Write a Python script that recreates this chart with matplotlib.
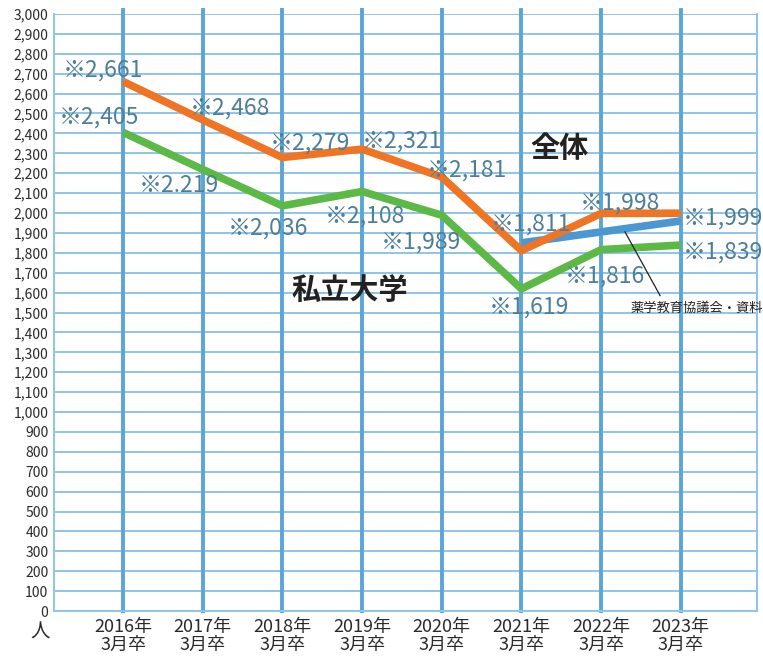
import matplotlib.pyplot as plt

plt.rcParams['font.family'] = ['Noto Sans CJK JP', 'DejaVu Sans']

years = ["2016年\n3月卒", "2017年\n3月卒", "2018年\n3月卒", "2019年\n3月卒",
         "2020年\n3月卒", "2021年\n3月卒", "2022年\n3月卒", "2023年\n3月卒"]
total = [2661, 2468, 2279, 2321, 2181, 1811, 1998, 1999]
private = [2405, 2219, 2036, 2108, 1989, 1619, 1816, 1839]
total_labels = ["※2,661", "※2,468", "※2,279", "※2,321", "※2,181", "※1,811", "※1,998", "※1,999"]
private_labels = ["※2,405", "※2.219", "※2,036", "※2,108", "※1,989", "※1,619", "※1,816", "※1,839"]
# short blue line 2021-2023
blue_x = [5, 6, 7]
blue_y = [1850, 1905, 1960]

# label offsets in pixels (dx, dy)
total_off = [(-20, 11), (27, 12), (28, 14), (40, 8), (25, 7), (9, 27), (19, 10), (42, -5)]
private_off = [(-24, 15), (-24, -16), (-14, -22), (3, -25), (-21, -27), (8, -18), (4, -26), (42, -7)]

fig = plt.figure(figsize=(7.63, 6.6), dpi=100)
ax = fig.add_axes([0.0708, 0.0742, 0.9212, 0.9046])

x = list(range(len(years)))
ax.set_xlim(-0.866, 7.955)
ax.set_ylim(0, 3000)

grid_h = '#8ec5e8'
grid_v = '#5aa6d4'
for v in range(0, 3001, 100):
    ax.axhline(v, color=grid_h, lw=1.4, zorder=1)
for xi in x:
    ax.axvline(xi, ymin=0, ymax=1.006, color=grid_v, lw=2.8, zorder=2, clip_on=False)

for s in ['left', 'bottom', 'right']:
    ax.spines[s].set_color(grid_h)
    ax.spines[s].set_linewidth(1.4)
ax.spines['top'].set_visible(False)

ax.plot(blue_x, blue_y, color='#4a97d2', lw=5.5, solid_capstyle='butt', zorder=3)
ax.plot(x, total, color='#ef7424', lw=5.5, solid_capstyle='butt', zorder=4)
ax.plot(x, private, color='#5cb946', lw=5.5, solid_capstyle='butt', zorder=4)

lab_color = '#4d7f97'
for xi, v, t, (dx, dy) in zip(x, total, total_labels, total_off):
    ax.annotate(t, (xi, v), xytext=(dx, dy), textcoords='offset pixels',
                ha='center', va='center', fontsize=16.5, color=lab_color, zorder=5,
                annotation_clip=False)
for xi, v, t, (dx, dy) in zip(x, private, private_labels, private_off):
    ax.annotate(t, (xi, v), xytext=(dx, dy), textcoords='offset pixels',
                ha='center', va='center', fontsize=16.5, color=lab_color, zorder=5,
                annotation_clip=False)

ax.text(5.475, 2325, "全体", fontsize=21, fontweight='bold', color='#222222', ha='center', va='center')
ax.text(2.84, 1615, "私立大学", fontsize=21, fontweight='bold', color='#222222', ha='center', va='center')

# source note with leader line
ax.plot([6.3, 6.74], [1905, 1585], color='#222222', lw=0.9, zorder=5)
ax.text(7.2, 1520, "薬学教育協議会・資料", fontsize=9.5, color='#222222', ha='center', va='center')

ax.set_yticks(range(0, 3001, 100))
ax.set_yticklabels([f"{v:,}" for v in range(0, 3001, 100)], fontsize=10, color='#2a2a2a')
ax.set_xticks(x)
ax.set_xticklabels(years, fontsize=13, color='#2a2a2a', linespacing=1.0)
ax.tick_params(length=0, pad=4)
ax.tick_params(axis='x', pad=5)

fig.text(40 / 763, 1 - 632 / 660, "人", fontsize=14, color='#2a2a2a', ha='center', va='center')

fig.savefig("out.png", dpi=100)
